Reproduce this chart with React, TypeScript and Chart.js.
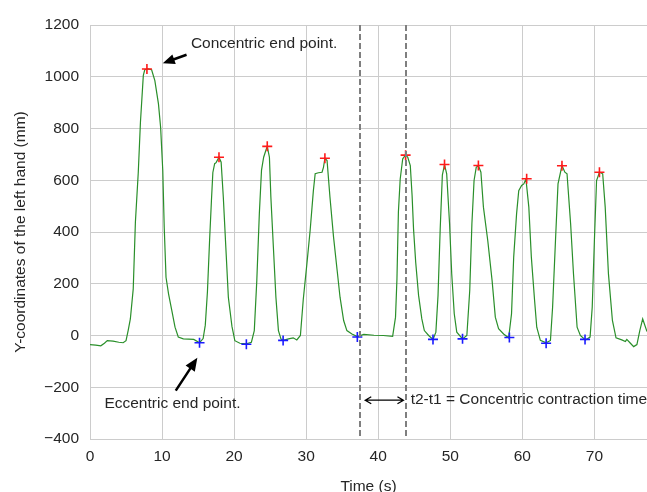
import React, { useEffect, useRef } from "react";
import { Chart, registerables } from "chart.js";

Chart.register(...registerables);

// Green trace: time (s) and Y-coordinate (mm)
const times = [
  0.0, 0.8, 1.5, 2.0, 2.4, 3.2, 4.0, 4.6, 5.0, 5.3, 5.6, 6.0, 6.3, 6.7, 7.0, 7.4, 7.6, 8.0, 8.55, 9.0,
  9.5, 9.8, 10.1, 10.3, 10.55, 10.9, 11.35, 11.8, 12.25, 12.95, 14.4, 15.2,
  15.7, 16.0, 16.3, 16.6, 16.85, 17.05, 17.3, 17.5, 17.9, 18.2, 18.5, 18.85, 19.2, 19.7, 20.1,
  20.8, 21.7, 22.4, 22.8, 23.15, 23.5, 23.8, 24.1, 24.4, 24.6, 24.9, 25.1, 25.45, 25.8, 26.15,
  26.5, 26.8, 27.55, 28.2, 28.7, 29.2, 29.6, 30.1, 30.55, 31.0, 31.25, 31.7, 32.2, 32.4, 32.6,
  32.9, 33.3, 33.8, 34.3, 34.7, 35.2, 35.65, 36.35, 37.1, 38.0, 39.4, 40.7, 42.0, 42.4, 42.6,
  42.8, 43.05, 43.4, 43.8, 44.1,
  44.45, 44.7, 44.9, 45.2, 45.6, 46.05, 46.4, 47.0, 47.6, 48.0, 48.3, 48.6, 48.9, 49.2, 49.5,
  49.9, 50.2, 50.55, 50.9, 51.7, 52.3, 52.7, 53.0, 53.3, 53.6, 53.9, 54.25, 54.6, 55.2, 55.8,
  56.25, 56.7, 57.4, 58.1, 58.5, 58.8, 59.2, 59.5, 59.9, 60.2, 60.5, 60.9, 61.25, 61.7, 62.0,
  62.5, 63.3, 63.9, 64.2, 64.6, 64.95, 65.5, 65.9, 66.2, 66.7, 67.1, 67.6, 68.05, 68.75, 69.4,
  69.7, 70.0, 70.3, 70.7, 71.15, 71.5, 71.95, 72.5, 73.0, 73.8, 74.3, 74.5, 75.0, 75.45, 75.9,
  76.3, 76.7, 77.3,
];
const heights = [
  -35, -37, -40, -30, -20, -22, -26, -28, -20, 20, 64, 180, 438, 631, 824, 1005, 1027, 1030, 1027, 985,
  895, 805, 638, 418, 225, 161, 97, 32, -6, -13, -15, -28,
  -12, 40, 170, 370, 520, 630, 664, 668, 689, 670, 535, 341, 148, 35, -20,
  -30, -32, -26, 19, 213, 470, 638, 689, 715, 731, 689, 535, 341, 148, 19,
  -13, -19, -13, -9, -17, 0, 140, 277, 406, 560, 625, 629, 631, 650, 685,
  676, 535, 380, 251, 148, 58, 19, 6, -4, 4, 1, 0, -3, 71, 219,
  477, 605, 683, 698, 689,
  657, 541, 412, 283, 155, 64, 19, 0, -15, 13, 155, 412, 620, 660, 625,
  432, 238, 84, 13, -13, 0, 174, 432, 599, 650, 657, 631, 496, 367, 213,
  71, 26, 6, -9, 84, 303, 470, 560, 580, 586, 605, 496, 303, 135, 32,
  -19, -28, -19, 110, 367, 586, 657, 631, 625, 432, 238, 32, 0, -17, -6,
  110, 367, 599, 631, 625, 496, 238, 58, -9, -17, -23, -15, -30, -43, -35,
  19, 64, 15,
];

// Concentric end points (red +)
const peakTimes = [7.9, 17.9, 24.6, 32.6, 43.8, 49.2, 53.9, 60.6, 65.5, 70.7];
const peakHeights = [1030, 689, 731, 685, 697, 661, 657, 606, 656, 631];

// Eccentric end points (blue +)
const troughTimes = [15.2, 21.7, 26.8, 37.1, 47.6, 51.7, 58.2, 63.3, 68.7];
const troughHeights = [-28, -34, -19, -6, -15, -13, -8, -30, -15];

// Axis ranges / ticks
const xMin = 0;
const xMax = 77.3;
const xStep = 10;
const yMin = -400;
const yMax = 1200;
const yStep = 200;

// Annotations (data coordinates)
const t1 = 37.5;
const t2 = 43.85;
const spanArrow = { from: 38.2, to: 43.5, y: -250 };
const spanLabel = { text: "t2-t1 = Concentric contraction time", x: 44.5, y: -250 };
const concLabel = { text: "Concentric end point.", x: 14.0, y: 1128 };
const concArrow = { fromX: 13.4, fromY: 1085, toX: 10.1, toY: 1052 };
const eccLabel = { text: "Eccentric end point.", x: 2.0, y: -264 };
const eccArrow = { fromX: 11.9, fromY: -213, toX: 14.9, toY: -86 };

const FONT = "'Liberation Sans', Arial, sans-serif";
const FS = 15.5;
const TEXT = "#262626";
const GRID = "#cccccc";

function filledArrow(ctx: CanvasRenderingContext2D, x1: number, y1: number, x2: number, y2: number, headLen: number, headW: number, shaftW: number) {
  const dx = x2 - x1, dy = y2 - y1;
  const len = Math.hypot(dx, dy);
  const ux = dx / len, uy = dy / len;
  const px = -uy, py = ux;
  const bx = x2 - ux * headLen, by = y2 - uy * headLen;
  ctx.beginPath();
  ctx.moveTo(x1 + px * shaftW / 2, y1 + py * shaftW / 2);
  ctx.lineTo(bx + px * shaftW / 2, by + py * shaftW / 2);
  ctx.lineTo(bx + px * headW / 2, by + py * headW / 2);
  ctx.lineTo(x2, y2);
  ctx.lineTo(bx - px * headW / 2, by - py * headW / 2);
  ctx.lineTo(bx - px * shaftW / 2, by - py * shaftW / 2);
  ctx.lineTo(x1 - px * shaftW / 2, y1 - py * shaftW / 2);
  ctx.closePath();
  ctx.fill();
}

const annotationPlugin = {
  id: "annot",
  afterDatasetsDraw(chart: any) {
    const { ctx, chartArea, scales } = chart;
    const xs = scales.x, ys = scales.y;
    ctx.save();
    // dashed verticals
    ctx.strokeStyle = "#7f7f7f";
    ctx.lineWidth = 2;
    ctx.setLineDash([6, 3]);
    [t1, t2].forEach((t) => {
      const px = Math.round(xs.getPixelForValue(t));
      ctx.beginPath();
      ctx.moveTo(px, chartArea.top);
      ctx.lineTo(px, chartArea.bottom);
      ctx.stroke();
    });
    ctx.setLineDash([]);

    // double arrow
    const ax1 = xs.getPixelForValue(spanArrow.from);
    const ax2 = xs.getPixelForValue(spanArrow.to);
    const ay = ys.getPixelForValue(spanArrow.y);
    ctx.strokeStyle = "#000";
    ctx.lineWidth = 1.3;
    ctx.beginPath();
    ctx.moveTo(ax1, ay);
    ctx.lineTo(ax2, ay);
    ctx.moveTo(ax1 + 6, ay - 3.5);
    ctx.lineTo(ax1, ay);
    ctx.lineTo(ax1 + 6, ay + 3.5);
    ctx.moveTo(ax2 - 6, ay - 3.5);
    ctx.lineTo(ax2, ay);
    ctx.lineTo(ax2 - 6, ay + 3.5);
    ctx.stroke();

    // texts
    ctx.fillStyle = TEXT;
    ctx.font = `${FS}px ${FONT}`;
    ctx.textAlign = "left";
    ctx.textBaseline = "middle";
    [spanLabel, concLabel, eccLabel].forEach((l) => {
      ctx.fillText(l.text, xs.getPixelForValue(l.x), ys.getPixelForValue(l.y));
    });

    // filled arrows
    ctx.fillStyle = "#000";
    filledArrow(ctx, xs.getPixelForValue(concArrow.fromX), ys.getPixelForValue(concArrow.fromY),
      xs.getPixelForValue(concArrow.toX), ys.getPixelForValue(concArrow.toY), 12, 10, 2.5);
    filledArrow(ctx, xs.getPixelForValue(eccArrow.fromX), ys.getPixelForValue(eccArrow.fromY),
      xs.getPixelForValue(eccArrow.toX), ys.getPixelForValue(eccArrow.toY), 13, 11, 2.5);
    ctx.restore();
  },
};

export default function App() {
  const ref = useRef<HTMLCanvasElement | null>(null);
  useEffect(() => {
    if (!ref.current) return;
    const lineData = times.map((t, i) => ({ x: t, y: heights[i] }));
    const peaks = peakTimes.map((t, i) => ({ x: t, y: peakHeights[i] }));
    const troughs = troughTimes.map((t, i) => ({ x: t, y: troughHeights[i] }));
    const chart = new Chart(ref.current, {
      type: "scatter",
      data: {
        datasets: [
          {
            data: peaks,
            pointStyle: "cross",
            pointRadius: 5,
            pointBorderWidth: 1.6,
            borderColor: "#ff1a1a",
            backgroundColor: "#ff1a1a",
          } as any,
          {
            data: troughs,
            pointStyle: "cross",
            pointRadius: 5,
            pointBorderWidth: 1.6,
            borderColor: "#1a1aff",
            backgroundColor: "#1a1aff",
          } as any,
          {
            data: lineData,
            showLine: true,
            pointRadius: 0,
            borderColor: "#2a8f2a",
            borderWidth: 1.2,
            tension: 0,
          } as any,
        ],
      },
      options: {
        animation: false,
        responsive: false,
        devicePixelRatio: 1,
        layout: { autoPadding: false, padding: { top: 25, right: 0, left: 0, bottom: 0 } },
        plugins: { legend: { display: false }, tooltip: { enabled: false } },
        scales: {
          x: {
            type: "linear",
            min: xMin,
            max: xMax,
            grid: { color: GRID, lineWidth: 1, drawTicks: false },
            border: { color: GRID, width: 1 },
            ticks: {
              stepSize: xStep,
              includeBounds: false,
              padding: 8,
              color: TEXT,
              font: { family: FONT, size: FS },
              callback: (v: any) => String(v).replace("-", "\u2212"),
            },
            title: {
              display: true,
              text: "Time (s)",
              color: TEXT,
              font: { family: FONT, size: FS },
              padding: { top: 0, bottom: -4 },
            },
            afterFit: (s: any) => {
              s.height = 53;
              s.paddingLeft = 0;
              s.paddingRight = 0;
            },
          },
          y: {
            type: "linear",
            min: yMin,
            max: yMax,
            grid: { color: GRID, lineWidth: 1, drawTicks: false },
            border: { color: GRID, width: 1 },
            ticks: {
              stepSize: yStep,
              padding: 11,
              color: TEXT,
              font: { family: FONT, size: FS },
              callback: (v: any) => String(v).replace("-", "\u2212"),
            },
            title: {
              display: true,
              text: "Y-coordinates of the left hand (mm)",
              color: TEXT,
              font: { family: FONT, size: FS },
              padding: { top: 11, bottom: 0 },
            },
            afterFit: (s: any) => {
              s.width = 90;
              s.paddingTop = 0;
              s.paddingBottom = 0;
            },
          },
        },
      },
      plugins: [annotationPlugin],
    });
    return () => chart.destroy();
  }, []);
  return (
    <div style={{ position: "fixed", left: 0, top: 0, width: 647, height: 492, background: "#fff" }}>
      <canvas ref={ref} width={647} height={492} style={{ display: "block" }} />
    </div>
  );
}
